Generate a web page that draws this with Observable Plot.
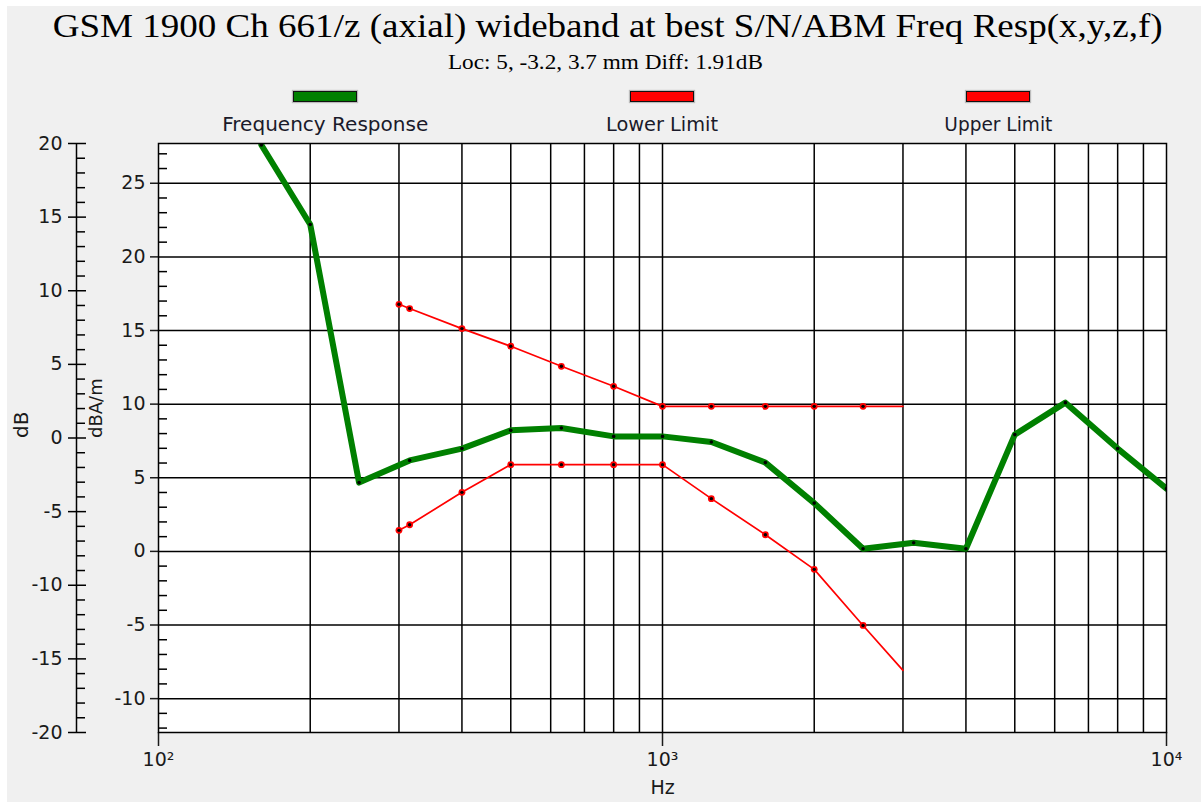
<!DOCTYPE html>
<html><head><meta charset="utf-8">
<script src="https://cdn.jsdelivr.net/npm/d3@7"></script>
<script src="https://cdn.jsdelivr.net/npm/@observablehq/plot@0.6"></script>
<style>
html,body{margin:0;padding:0;background:#fff;width:1201px;height:802px;overflow:hidden;position:relative;}
#chart{position:absolute;left:7px;top:6px;}
.t{position:absolute;white-space:nowrap;line-height:1;transform-origin:center center;color:#111;z-index:2;}
.sw{position:absolute;box-sizing:border-box;border:1.5px solid #111;box-shadow:0 0 1px 1px rgba(0,0,0,0.22);z-index:2;}
</style></head><body>
<div id="chart"></div>
<script>
// ---- data ----
const respFreq   = [160, 200, 250, 315, 400, 500, 630, 800, 1000, 1250, 1600, 2000, 2500, 3150, 4000, 5000, 6300, 8000, 10000];
const respValue  = [27.6, 22.2, 4.67, 6.18, 6.98, 8.22, 8.38, 7.81, 7.81, 7.43, 6.03, 3.28, 0.18, 0.59, 0.18, 7.93, 10.1, 6.98, 4.26];
const limitFreq  = [300, 315, 400, 500, 630, 800, 1000, 1250, 1600, 2000, 2500, 3000];
const lowerLimit = [1.43, 1.81, 4.01, 5.89, 5.89, 5.89, 5.89, 3.58, 1.13, -1.22, -5.03, -8.08];
const upperLimit = [16.78, 16.49, 15.13, 13.93, 12.57, 11.21, 9.85, 9.85, 9.85, 9.85, 9.85, 9.85];
const limitMarked = [true, true, true, true, true, true, true, true, true, true, true, false];

const xDomain = [100, 10000];
const xTicks = [100, 1000, 10000];
const xTickLabels = ["10²", "10³", "10⁴"];
const gridFreqs = [200, 300, 400, 500, 600, 700, 800, 900, 1000, 2000, 3000, 4000, 5000, 6000, 7000, 8000, 9000];
const yDomain = [-12.3, 27.7];            // dBA/m
const innerMajorTicks = [-10, -5, 0, 5, 10, 15, 20, 25];
const innerMinorTicks = [-12, -11, -9, -8, -7, -6, -4, -3, -2, -1, 1, 2, 3, 4, 6, 7, 8, 9, 11, 12, 13, 14, 16, 17, 18, 19, 21, 22, 23, 24, 26, 27];
const outerOffset = 7.7;                  // dB = dBA/m - offset
const outerMajorTicks = [-20, -15, -10, -5, 0, 5, 10, 15, 20];
const outerMinorTicks = [-19, -18, -17, -16, -14, -13, -12, -11, -9, -8, -7, -6, -4, -3, -2, -1, 1, 2, 3, 4, 6, 7, 8, 9, 11, 12, 13, 14, 16, 17, 18, 19];

const titleText = "GSM 1900 Ch 661/z (axial) wideband at best S/N/ABM Freq Resp(x,y,z,f)";
const subtitleText = "Loc: 5, -3.2, 3.7 mm Diff: 1.91dB";
const seriesNames = ["Frequency Response", "Lower Limit", "Upper Limit"];
const seriesColors = ["#008000", "#ff0000", "#ff0000"];

// ---- tables ----
const respTable = respFreq.map((f, i) => ({f, v: respValue[i]}));
const lowerTable = limitFreq.map((f, i) => ({f, v: lowerLimit[i], m: limitMarked[i]}));
const upperTable = limitFreq.map((f, i) => ({f, v: upperLimit[i], m: limitMarked[i]}));

const W = 1194, H = 796, ML = 151, MR = 35, MT = 137, MB = 70;
const FW = W - ML - MR;
const gridStyle = {stroke: "#000", strokeWidth: 1.5};

const chart = Plot.plot({
  width: W, height: H,
  marginLeft: ML, marginRight: MR, marginTop: MT, marginBottom: MB,
  style: {background: "#f0f0f0", fontFamily: "DejaVu Sans", fontSize: "19px", color: "#1a1a1a", overflow: "visible"},
  x: {type: "log", domain: xDomain},
  y: {domain: yDomain},
  marks: [
    Plot.frame({fill: "white", stroke: "none"}),
    Plot.ruleX(gridFreqs, gridStyle),
    Plot.ruleY(innerMajorTicks, gridStyle),
    Plot.tickY(innerMinorTicks, {insetRight: FW - 9, ...gridStyle}),
    Plot.axisY(innerMajorTicks, {anchor: "left", tickSize: 8, tickPadding: 5, tickFormat: d => String(d), label: null, strokeWidth: 1.5, fontSize: 19}),
    Plot.axisX(xTicks, {anchor: "bottom", tickSize: 14, tickPadding: 6, tickFormat: d => xTickLabels[xTicks.indexOf(d)], label: null, strokeWidth: 1.5, fontSize: 19}),
    // outer dB axis
    Plot.ruleX([xDomain[0]], {dx: -82, ...gridStyle}),
    Plot.tickY(outerMinorTicks, {y: d => d + outerOffset, insetLeft: -82, insetRight: FW + 73, ...gridStyle}),
    Plot.tickY(outerMajorTicks, {y: d => d + outerOffset, insetLeft: -90, insetRight: FW + 72, ...gridStyle}),
    Plot.text(outerMajorTicks, {y: d => d + outerOffset, text: d => String(d), frameAnchor: "left", textAnchor: "end", dx: -96, fontSize: 19}),
    // limits
    Plot.line(upperTable, {x: "f", y: "v", stroke: seriesColors[2], strokeWidth: 1.7}),
    Plot.line(lowerTable, {x: "f", y: "v", stroke: seriesColors[1], strokeWidth: 1.7}),
    Plot.dot(upperTable, {filter: d => d.m, x: "f", y: "v", r: 3.4, fill: seriesColors[2]}),
    Plot.dot(lowerTable, {filter: d => d.m, x: "f", y: "v", r: 3.4, fill: seriesColors[1]}),
    Plot.dot(upperTable, {filter: d => d.m, x: "f", y: "v", r: 1.7, fill: "#000"}),
    Plot.dot(lowerTable, {filter: d => d.m, x: "f", y: "v", r: 1.7, fill: "#000"}),
    // frequency response
    Plot.line(respTable, {x: "f", y: "v", stroke: seriesColors[0], strokeWidth: 6, clip: true}),
    Plot.dot(respTable, {x: "f", y: "v", r: 1.8, fill: "#000", clip: true}),
    Plot.frame({stroke: "#000", strokeWidth: 1.5}),
    // axis titles
    Plot.text(["dB"], {text: d => d, frameAnchor: "left", dx: -137, rotate: -90, fontSize: 20}),
    Plot.text(["dBA/m"], {text: d => d, frameAnchor: "left", dx: -62, rotate: -90, fontSize: 18}),
    Plot.text(["Hz"], {text: d => d, frameAnchor: "bottom", dy: 55, lineAnchor: "middle", fontSize: 19})
  ]
});
document.getElementById("chart").appendChild(chart);

// ---- title, subtitle, legend (HTML) ----
function placeText(str, cx, baseline, size, family, ascent, width) {
  const el = document.createElement("div");
  el.className = "t";
  el.textContent = str;
  el.style.fontFamily = family;
  el.style.fontSize = size + "px";
  document.body.appendChild(el);
  const w = el.getBoundingClientRect().width;
  el.style.left = (cx - w / 2) + "px";
  el.style.top = (baseline - ascent * size) + "px";
  if (width) el.style.transform = `scaleX(${width / w})`;
  return el;
}
const SERIF = "'Liberation Serif', 'Times New Roman', serif";
const SANS = "'DejaVu Sans', sans-serif";
placeText(titleText, 608, 37.5, 33.7, SERIF, 0.8375, 1110).style.color = "#000";
placeText(subtitleText, 605.5, 70, 21, SERIF, 0.8375, 315).style.color = "#000";

const legendCx = [325, 662, 998];
const legendW = [206, 112, 108];
const swatchX = [293, 630, 966];
seriesNames.forEach((name, i) => {
  const sw = document.createElement("div");
  sw.className = "sw";
  sw.style.left = swatchX[i] + "px";
  sw.style.top = "91px";
  sw.style.width = "64px";
  sw.style.height = "11px";
  sw.style.background = seriesColors[i];
  document.body.appendChild(sw);
  placeText(name, legendCx[i], 131.5, 19.7, SANS, 0.846, legendW[i]).style.color = "#1a1a2a";
});
</script></body></html>
